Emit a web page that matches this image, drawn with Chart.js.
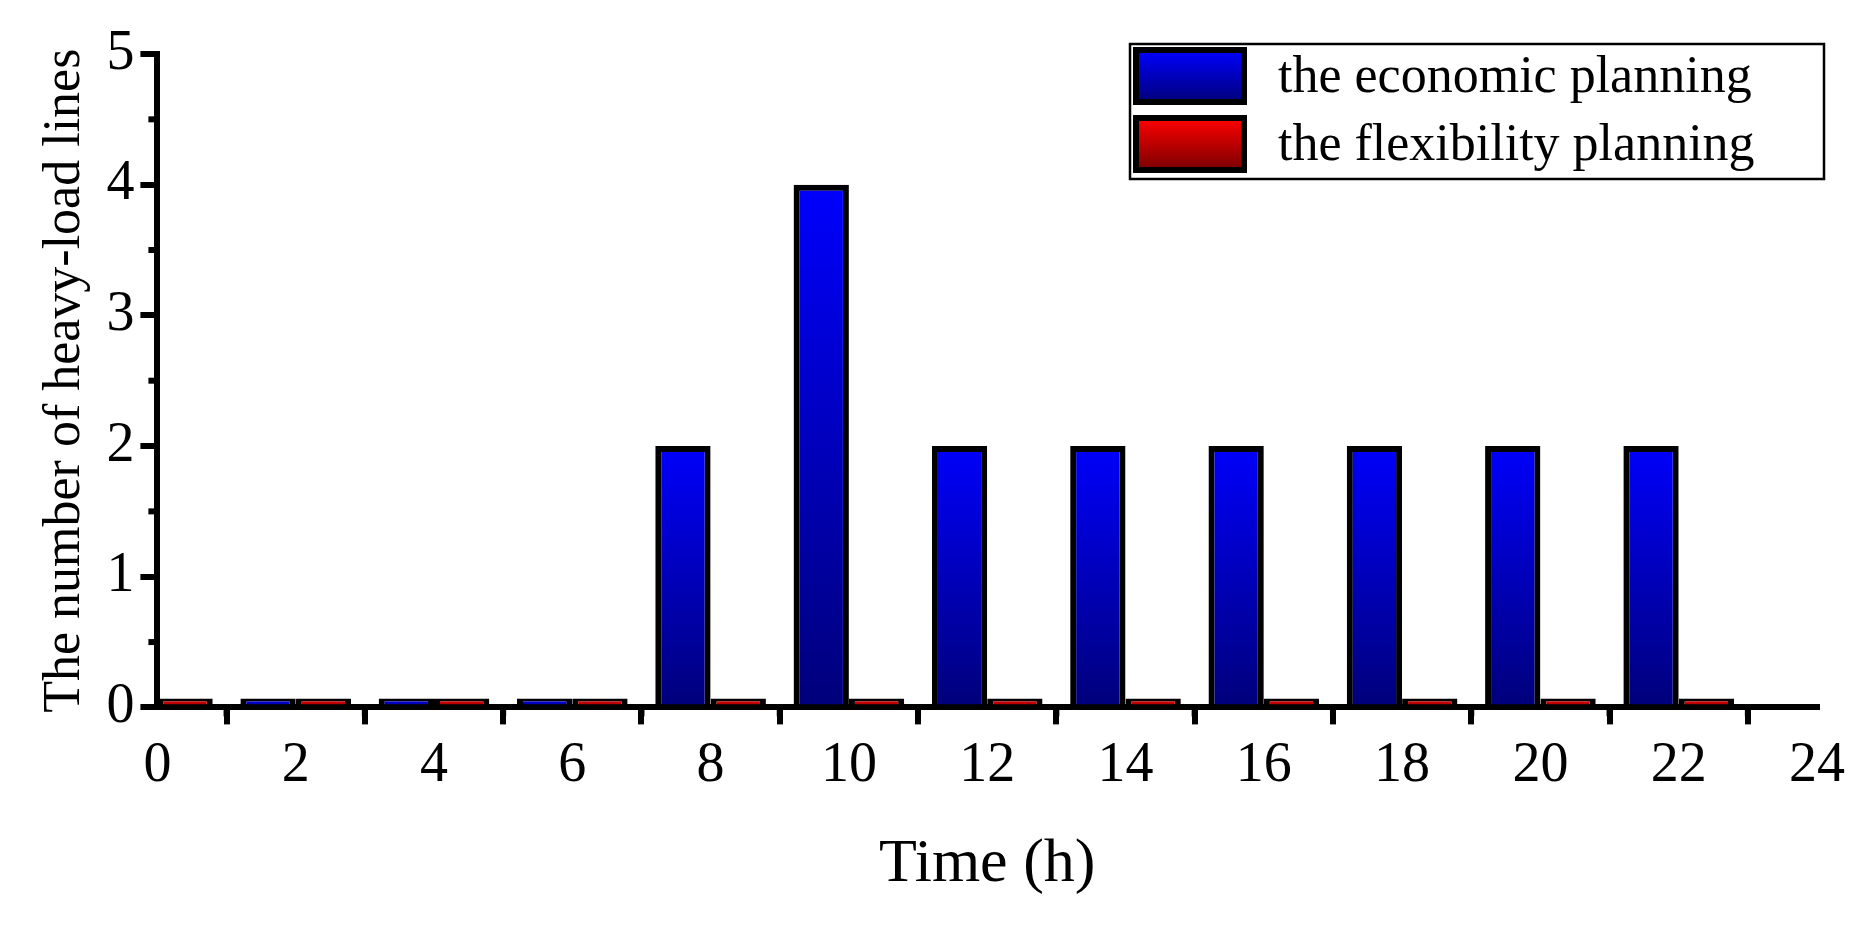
<!DOCTYPE html>
<html>
<head>
<meta charset="utf-8">
<script src="https://cdn.jsdelivr.net/npm/chart.js@4/dist/chart.umd.min.js"></script>
<style>
  html, body { margin: 0; padding: 0; background: #fff; }
  #wrap { width: 1861px; height: 940px; }
</style>
</head>
<body>
<div id="wrap"><canvas id="chart_heavy"></canvas></div>
<script>
// hours (group centres) and number of heavy-load lines
const hours = [0, 2, 4, 6, 8, 10, 12, 14, 16, 18, 20, 22];
const economic = [0, 0, 0, 0, 2, 4, 2, 2, 2, 2, 2, 2];
const flexibility = [0, 0, 0, 0, 0, 0, 0, 0, 0, 0, 0, 0];
const xTicks = [0, 2, 4, 6, 8, 10, 12, 14, 16, 18, 20, 22, 24];
const yTicks = [0, 1, 2, 3, 4, 5];

const font = "'Liberation Serif', 'Times New Roman', serif";

// vertical gradient per bar, bright on top, dark at base
function barGradient(top, bottom) {
    return function(context) {
        const chart = context.chart;
        if (!chart.chartArea || !chart.scales.y) return top;
        const y = chart.scales.y;
        const v = context.raw ? context.raw.y : 0;
        const yTop = y.getPixelForValue(v) - 8;
        const yBase = y.getPixelForValue(0);
        const g = chart.ctx.createLinearGradient(0, yTop, 0, yBase);
        g.addColorStop(0, top);
        g.addColorStop(1, bottom);
        return g;
    };
}

// minor ticks + framed legend drawn by hand
const extras = {
    id: 'extras',
    afterDraw(chart) {
        const ctx = chart.ctx;
        const x = chart.scales.x, y = chart.scales.y;
        ctx.save();
        ctx.strokeStyle = '#000';
        ctx.lineWidth = 6;
        for (let h = 1; h < 24; h += 2) {
            const px = x.getPixelForValue(h);
            ctx.beginPath();
            ctx.moveTo(px, y.bottom);
            ctx.lineTo(px, y.bottom + 9);
            ctx.stroke();
        }
        for (let v = 0.5; v < 5; v += 1) {
            const py = y.getPixelForValue(v);
            ctx.beginPath();
            ctx.moveTo(x.left, py);
            ctx.lineTo(x.left - 9, py);
            ctx.stroke();
        }
        // legend
        const lx = 1130, ly = 44, lw = 694, lh = 135;
        ctx.lineWidth = 2.5;
        ctx.strokeRect(lx, ly, lw, lh);
        const cols = [['#0000ff', '#00007a'], ['#ff0000', '#7a0000']];
        chart.data.datasets.forEach((ds, i) => {
            const sy = ly + 6 + i * 68;
            const g = ctx.createLinearGradient(0, sy, 0, sy + 52);
            g.addColorStop(0, cols[i][0]);
            g.addColorStop(1, cols[i][1]);
            ctx.fillStyle = g;
            ctx.fillRect(lx + 6, sy, 108, 52);
            ctx.lineWidth = 6;
            ctx.strokeRect(lx + 6, sy, 108, 52);
            ctx.fillStyle = '#000';
            ctx.font = '52px ' + font;
            ctx.textBaseline = 'middle';
            ctx.fillText(ds.label, lx + 148, sy + 28);
        });
        ctx.restore();
    }
};

new Chart(document.getElementById('chart_heavy'), {
    type: 'bar',
    data: {
        datasets: [{
            label: 'the economic planning',
            data: hours.map((h, i) => ({x: h, y: economic[i]})),
            backgroundColor: barGradient('#0000ff', '#00007a'),
            borderColor: '#000',
            borderWidth: 6,
            minBarLength: 9
        }, {
            label: 'the flexibility planning',
            data: hours.map((h, i) => ({x: h, y: flexibility[i]})),
            backgroundColor: barGradient('#ff0000', '#7a0000'),
            borderColor: '#000',
            borderWidth: 6,
            minBarLength: 9
        }]
    },
    options: {
        responsive: true,
        maintainAspectRatio: false,
        animation: false,
        categoryPercentage: 0.8,
        barPercentage: 1.0,
        layout: { padding: { left: 30, right: 44, top: 54, bottom: 34 } },
        plugins: { legend: { display: false }, tooltip: { enabled: false } },
        scales: {
            x: {
                type: 'linear',
                min: 0, max: 24,
                offset: false,
                afterBuildTicks: axis => { axis.ticks = xTicks.map(v => ({value: v})); },
                ticks: { color: '#000', font: { family: font, size: 56 }, padding: 8, maxRotation: 0 },
                grid: { drawOnChartArea: false, color: '#000', tickLength: 17, tickWidth: 6, lineWidth: 6 },
                border: { color: '#000', width: 6 },
                title: { display: true, text: 'Time (h)', color: '#000', font: { family: font, size: 62 }, padding: { top: 20 } }
            },
            y: {
                min: 0, max: 5,
                afterBuildTicks: axis => { axis.ticks = yTicks.map(v => ({value: v})); },
                ticks: { color: '#000', font: { family: font, size: 56 }, padding: 6 },
                grid: { drawOnChartArea: false, color: '#000', tickLength: 17, tickWidth: 6, lineWidth: 6 },
                border: { color: '#000', width: 6 },
                title: { display: true, text: 'The number of heavy-load lines', color: '#000', font: { family: font, size: 52 }, padding: { bottom: 4 } }
            }
        }
    },
    plugins: [extras]
});
</script>
</body>
</html>
